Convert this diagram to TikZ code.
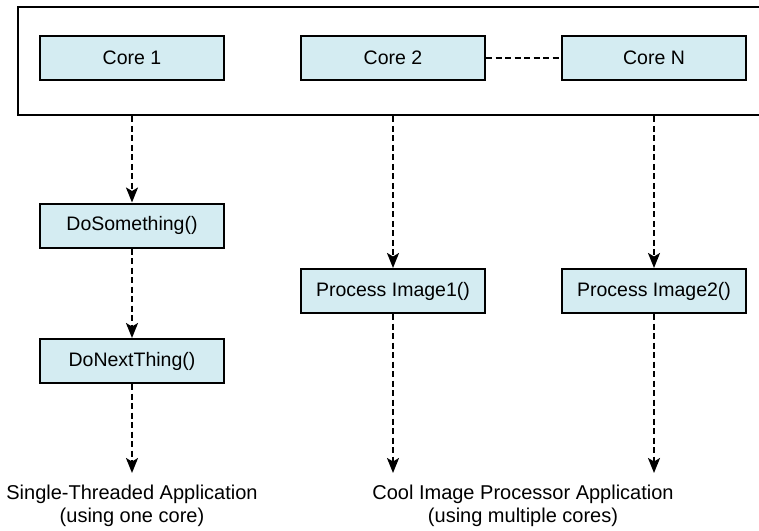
\documentclass[tikz,border=0pt]{standalone}
\usepackage{fontspec}
\setmainfont{Liberation Sans}
\usetikzlibrary{arrows.meta,positioning}
\definecolor{boxblue}{RGB}{212,236,242}

\begin{document}
\begin{tikzpicture}[x=1pt,y=-1pt,
	corebox/.style={draw,line width=2pt,fill=boxblue,minimum width=184pt,minimum height=44pt,inner sep=0pt,font=\fontsize{19.5}{22}\selectfont},
	flow/.style={line width=2pt,dash pattern=on 6pt off 3.5pt,-{Stealth[length=15pt,width=12pt,inset=3.5pt]}},
	caption/.style={align=center,anchor=north,inner xsep=0pt,inner ysep=12pt,font=\fontsize{20}{23}\selectfont}]
				\useasboundingbox (0,0) rectangle (759,530);
				
				% processor with its cores
				\node [draw,line width=2.5pt,minimum width=757pt,minimum height=108pt,inner sep=0pt] (cpu) at (396.5,61) {};
				\node [corebox] (c1) at (132,58) {Core 1};
				\node [corebox] (c2) at (393,58) {Core 2};
				\node [corebox] (cn) at (654,58) {Core N};
				\draw[line width=2pt,dash pattern=on 6pt off 3.5pt] (c2.east) -- (cn.west);
				
				% the two applications
				\node [corebox] (f1) at (132,225.5) {DoSomething()};
				\node [corebox] (f2) at (132,361) {DoNextThing()};
				\node [corebox] (p1) at (393,291) {Process Image1()};
				\node [corebox] (p2) at (654,291) {Process Image2()};
				\node [caption] (single) at (132,473) {Single-Threaded Application\\(using one core)};
				\node [caption] (multi) at (523,473) {Cool Image Processor Application\\(using multiple cores)};
				
				\draw[flow] (c1 |- cpu.south) -- (f1);
				\draw[flow] (f1) -- (f2);
				\draw[flow] (f2) -- (single);
				\draw[flow] (c2 |- cpu.south) -- (p1);
				\draw[flow] (cn |- cpu.south) -- (p2);
				\draw[flow] (p1) -- (p1 |- multi.north);
				\draw[flow] (p2) -- (p2 |- multi.north);
				
			\end{tikzpicture}
\end{document}
